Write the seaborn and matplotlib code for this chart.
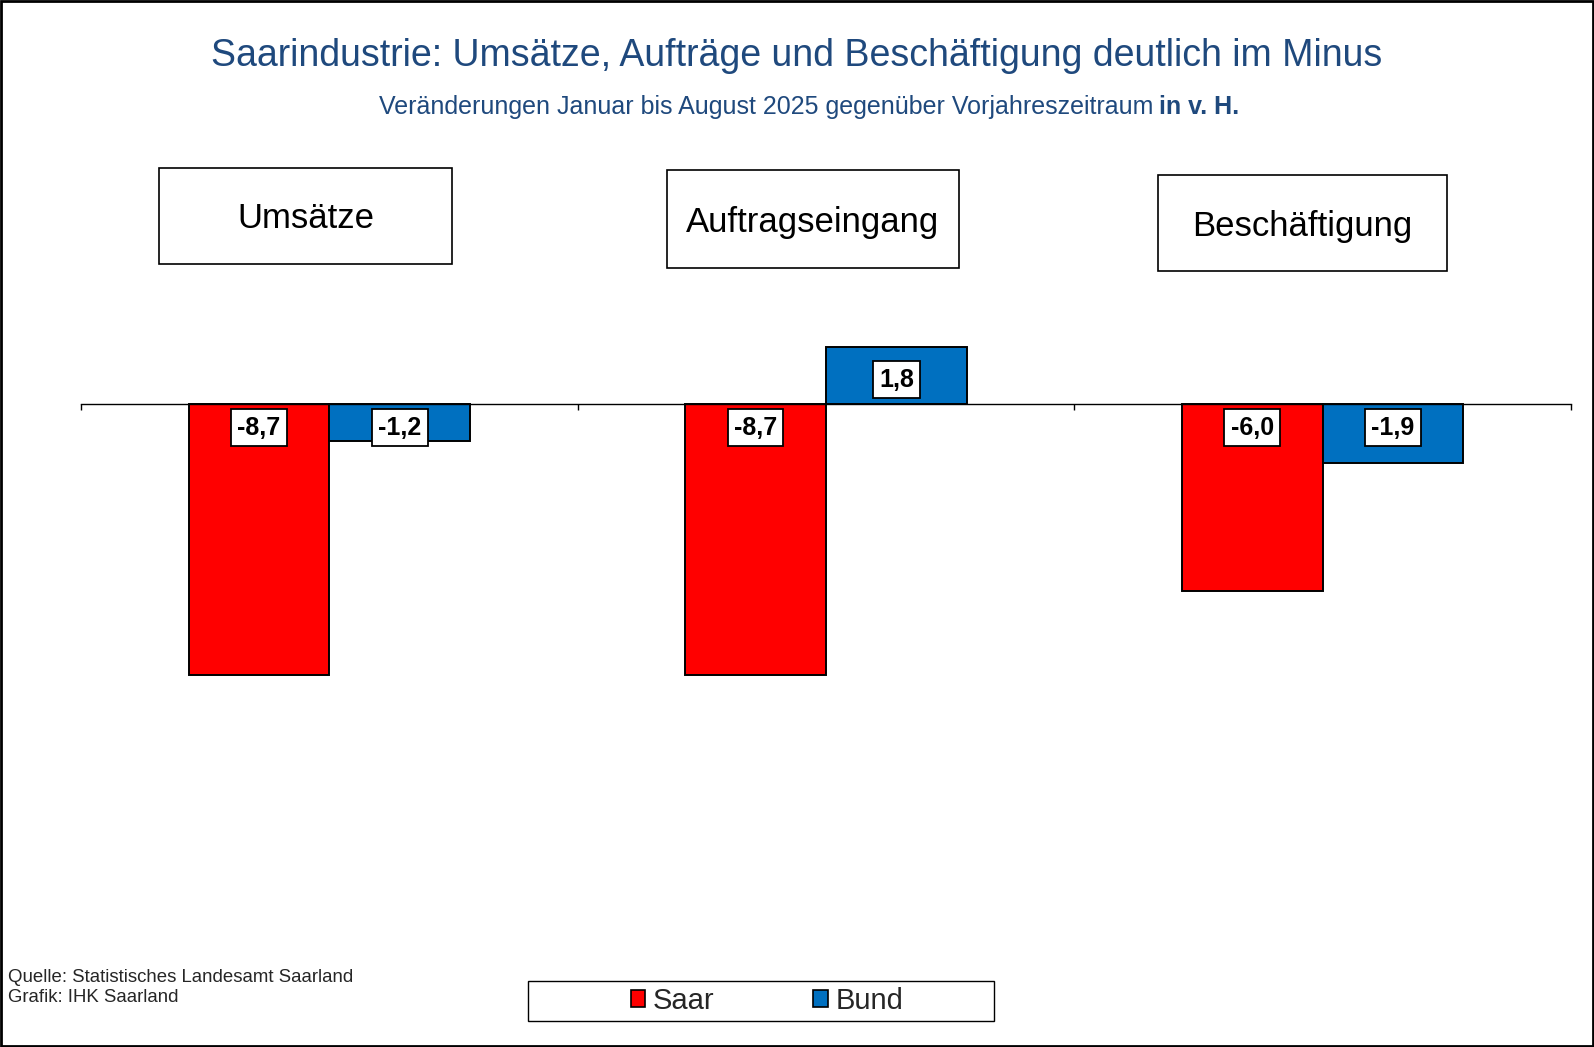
import pandas as pd
import matplotlib
matplotlib.use("Agg")
import matplotlib.pyplot as plt
from matplotlib.patches import Rectangle, Patch
import seaborn as sns

# Daten: Veränderung Jan-Aug 2025 ggü. Vorjahr in %
kategorien = ["Umsätze", "Auftragseingang", "Beschäftigung"]
saar = [-8.7, -8.7, -6.0]
bund = [-1.2, 1.8, -1.9]
regionen = ["Saar", "Bund"]
farben = {"Saar": "#FF0000", "Bund": "#0070C0"}

df = pd.DataFrame({
    "Kategorie": kategorien * 2,
    "Region": ["Saar"] * 3 + ["Bund"] * 3,
    "Wert": saar + bund,
})

sns.set_style("white")
plt.rcParams["font.family"] = ["Liberation Sans", "DejaVu Sans"]

W, H = 1594, 1047
fig = plt.figure(figsize=(W / 100, H / 100), dpi=100)


def fx(px):
    return px / W


def fy(py):
    return 1 - py / H


# plot area in pixels
ax_left, ax_right, ax_top, ax_bottom = 81, 1571, 300, 900
ax = fig.add_axes([fx(ax_left), fy(ax_bottom), fx(ax_right - ax_left), (ax_bottom - ax_top) / H])

sns.barplot(data=df, x="Kategorie", y="Wert", hue="Region", order=kategorien,
            hue_order=regionen, palette=farben, saturation=1, width=0.567,
            edgecolor="black", linewidth=1.4, legend=False, ax=ax, errorbar=None)

ax.set_xlim(-0.5, 2.5)
ax.set_ylim(-15.91, 3.32)
for s in ["left", "right", "top"]:
    ax.spines[s].set_visible(False)
ax.spines["bottom"].set_position(("data", 0))
ax.spines["bottom"].set_color("black")
ax.spines["bottom"].set_linewidth(1.0)
ax.set_xticks([-0.5, 0.5, 1.5, 2.5])
ax.set_xticklabels([])
ax.tick_params(axis="x", direction="out", length=4, width=1, color="black", bottom=True)
ax.set_yticks([])
ax.set_xlabel("")
ax.set_ylabel("")
ax.patch.set_alpha(0)

# value labels at the bar base
for cont in ax.containers:
    for bar, v in zip(cont, cont.datavalues):
        xc = bar.get_x() + bar.get_width() / 2
        off = 24 if v > 0 else -24
        ax.annotate(f"{v:.1f}".replace(".", ","), (xc, 0), xytext=(0, off),
                    textcoords="offset pixels", ha="center", va="center",
                    fontsize=18, fontweight="bold", color="black",
                    bbox=dict(boxstyle="square,pad=0.25", fc="white", ec="black", lw=1.3))

# category boxes
boxes = [(158.6, 167.7, 452.4, 264.3), (667, 169.8, 958.7, 268.4), (1158, 174.9, 1446.6, 271.4)]
for name, (x0, y0, x1, y1) in zip(kategorien, boxes):
    fig.patches.append(Rectangle((fx(x0), fy(y1)), fx(x1 - x0), (y1 - y0) / H,
                                 transform=fig.transFigure, fill=False, ec="black", lw=1.2))
    fig.text(fx((x0 + x1) / 2), fy((y0 + y1) / 2 + 3), name, ha="center", va="center",
             fontsize=25, color="black")

# title and subtitle
blau = "#1F497D"
fig.text(fx(796.5), fy(56), "Saarindustrie: Umsätze, Aufträge und Beschäftigung deutlich im Minus",
         ha="center", va="center", fontsize=27, color=blau)
r = fig.canvas.get_renderer()
t1 = fig.text(0, fy(107), "Veränderungen Januar bis August 2025 gegenüber Vorjahreszeitraum",
              ha="left", va="center", fontsize=18, color=blau)
t2 = fig.text(0, fy(107), "in v. H.", ha="left", va="center", fontsize=18,
              fontweight="bold", color=blau)
w1 = t1.get_window_extent(r).width
w2 = t2.get_window_extent(r).width
gap = 6
start = 809 - (w1 + gap + w2) / 2
t1.set_x(fx(start))
t2.set_x(fx(start + w1 + gap))

# source
fig.text(fx(8), fy(977), "Quelle: Statistisches Landesamt Saarland", ha="left", va="center", fontsize=13.4)
fig.text(fx(8), fy(998), "Grafik: IHK Saarland", ha="left", va="center", fontsize=13.4)

# legend
lx0, ly0, lx1, ly1 = 527.6, 981, 994.2, 1020.7
fig.patches.append(Rectangle((fx(lx0), fy(ly1)), fx(lx1 - lx0), (ly1 - ly0) / H,
                             transform=fig.transFigure, fill=False, ec="black", lw=1.0))
handles = [Patch(fc=farben[k], ec="black", lw=1.2, label=k) for k in regionen]
fig.legend(handles=handles, loc="center", bbox_to_anchor=(fx(767), fy(1001)), ncol=2,
           frameon=False, fontsize=21, handlelength=0.5, handleheight=0.5,
           handletextpad=0.25, columnspacing=3.4, borderpad=0, borderaxespad=0)

# outer frame
fig.patches.append(Rectangle((fx(1), fy(H - 1)), fx(W - 2), (H - 2) / H, transform=fig.transFigure,
                             fill=False, ec="black", lw=2))

fig.savefig("out.png", dpi=100)
